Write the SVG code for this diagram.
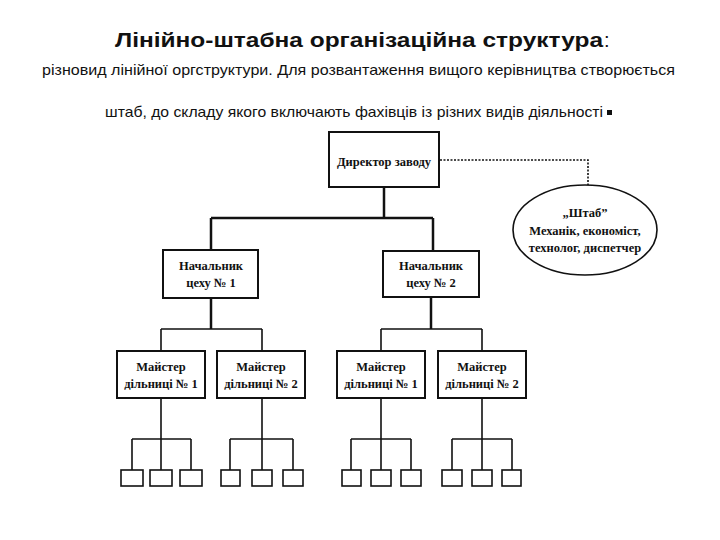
<svg xmlns="http://www.w3.org/2000/svg" width="720" height="540" viewBox="0 0 720 540">
<style>
.hdr{font-family:"Liberation Sans",Arial,sans-serif;fill:#111}
.box{fill:#fff;stroke:#111;stroke-width:2}
.sm{fill:#fff;stroke:#111;stroke-width:1.6}
.lbl{font-family:"Liberation Serif","Times New Roman",serif;font-weight:bold;font-size:12.5px;fill:#111;text-anchor:middle}
.thick{fill:none;stroke:#111;stroke-width:2.5}
.thin{fill:none;stroke:#111;stroke-width:1.6}
.dot{fill:none;stroke:#111;stroke-width:1.6;stroke-dasharray:2 1.5}
</style>
<rect width="720" height="540" fill="#fff"/>
<g id="header">
<text class="hdr" x="115" y="47" font-size="20" font-weight="bold" textLength="488" lengthAdjust="spacingAndGlyphs">Лінійно-штабна організаційна структура</text>
<text class="hdr" x="604" y="47" font-size="20">:</text>
<text class="hdr" x="42" y="75" font-size="14.5" textLength="633" lengthAdjust="spacingAndGlyphs">різновид лінійної оргструктури. Для розвантаження вищого керівництва створюється</text>
<text class="hdr" x="105" y="117" font-size="14.5" textLength="498" lengthAdjust="spacingAndGlyphs">штаб, до складу якого включають фахівців із різних видів діяльності</text>
<rect x="607" y="110" width="5" height="5" fill="#111"/>
</g>
<g id="connectors">
<path class="thick" d="M384 187V218M211 218H433M211 218V250M433 218V251"/>
<path class="dot" d="M440 160H588V185"/>
<path class="thick" d="M211 298V329"/>
<path class="thin" d="M161 329H262M161 329V351M262 329V351"/>
<path class="thick" d="M431 297V329"/>
<path class="thin" d="M381 329H482M381 329V351M482 329V351"/>
<path class="thin" d="M161 398V439M132 439H191M132 439V470M161 439V470M191 439V470"/>
<path class="thin" d="M262 398V439M230 439H293M230 439V470M262 439V470M293 439V470"/>
<path class="thin" d="M381 398V439M351 439H411M351 439V470M381 439V470M411 439V470"/>
<path class="thin" d="M482 398V439M452 439H512M452 439V470M482 439V470M512 439V470"/>
</g>
<g id="director">
<rect class="box" x="329" y="132" width="110" height="55"/>
<text class="lbl" x="384" y="166">Директор заводу</text>
</g>
<g id="staff">
<ellipse cx="585" cy="230" rx="72" ry="45" fill="#fff" stroke="#111" stroke-width="1.6"/>
<text class="lbl" x="585" y="217">„Штаб”</text>
<text class="lbl" x="585" y="235">Механік, економіст,</text>
<text class="lbl" x="585" y="252">технолог, диспетчер</text>
</g>
<g id="chief1">
<rect class="box" x="163" y="250" width="95" height="48"/>
<text class="lbl" x="211" y="270">Начальник</text>
<text class="lbl" x="211" y="287">цеху № 1</text>
</g>
<g id="chief2">
<rect class="box" x="383" y="251" width="96" height="46"/>
<text class="lbl" x="431" y="270">Начальник</text>
<text class="lbl" x="431" y="287">цеху № 2</text>
</g>
<g id="master11">
<rect class="box" x="117" y="351" width="88" height="47"/>
<text class="lbl" x="161" y="371">Майстер</text>
<text class="lbl" x="161" y="388">дільниці № 1</text>
</g>
<g id="master12">
<rect class="box" x="217" y="351" width="88" height="47"/>
<text class="lbl" x="261" y="371">Майстер</text>
<text class="lbl" x="261" y="388">дільниці № 2</text>
</g>
<g id="master21">
<rect class="box" x="337" y="351" width="88" height="47"/>
<text class="lbl" x="381" y="371">Майстер</text>
<text class="lbl" x="381" y="388">дільниці № 1</text>
</g>
<g id="master22">
<rect class="box" x="438" y="351" width="88" height="47"/>
<text class="lbl" x="482" y="371">Майстер</text>
<text class="lbl" x="482" y="388">дільниці № 2</text>
</g>
<g id="workers">
<rect class="sm" x="121" y="470" width="22" height="16"/>
<rect class="sm" x="150" y="470" width="22" height="16"/>
<rect class="sm" x="180" y="470" width="22" height="16"/>
<rect class="sm" x="221" y="470" width="19" height="16"/>
<rect class="sm" x="252" y="470" width="20" height="16"/>
<rect class="sm" x="283" y="470" width="20" height="16"/>
<rect class="sm" x="342" y="470" width="19" height="16"/>
<rect class="sm" x="371" y="470" width="20" height="16"/>
<rect class="sm" x="401" y="470" width="20" height="16"/>
<rect class="sm" x="442" y="470" width="20" height="16"/>
<rect class="sm" x="472" y="470" width="20" height="16"/>
<rect class="sm" x="502" y="470" width="19" height="16"/>
</g>
</svg>
